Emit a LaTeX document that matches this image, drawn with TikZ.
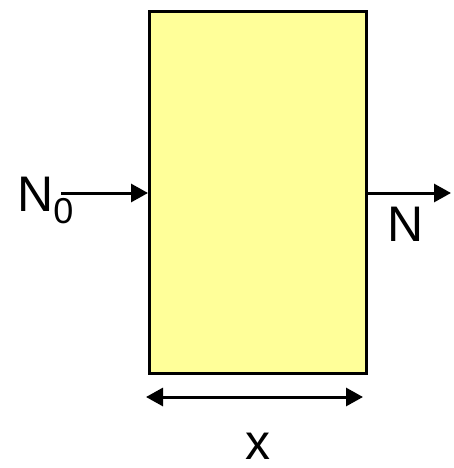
\documentclass[tikz,border=0pt]{standalone}
\usepackage{fontspec}
\setmainfont{Liberation Sans}
\usetikzlibrary{arrows.meta}
\definecolor{slab}{HTML}{FFFF99}
\begin{document}
\begin{tikzpicture}[x=1pt,y=-1pt,
  lbl/.style={inner sep=0pt,font=\fontsize{50}{50}\selectfont},
  arr/.style={line width=3pt,-{Triangle[length=17pt,width=18pt]}},
  darr/.style={line width=3pt,{Triangle[length=17pt,width=18pt]}-{Triangle[length=17pt,width=18pt]}}]
\useasboundingbox (0,0) rectangle (453,468);
\node[draw=black,line width=3pt,fill=slab,minimum width=217pt,minimum height=362pt,inner sep=0pt,anchor=north west] (box) at (148,10) {};
\node[lbl,anchor=base west] (n0) at (17,211) {N\raisebox{-12pt}{\fontsize{36}{36}\selectfont 0}};
\coordinate (in) at (61,193);
\draw[arr] (in) -- (box.west |- in);
\coordinate (out) at (451,193);
\draw[arr] (box.east |- out) -- (out);
\node[lbl,anchor=base west] (n) at (387,241) {N};
\coordinate (dl) at (146,397);
\coordinate (dr) at (363,397);
\draw[darr] (dl) -- (dr);
\node[lbl,anchor=base] (xl) at (258,459) {x};
\end{tikzpicture}
\end{document}
